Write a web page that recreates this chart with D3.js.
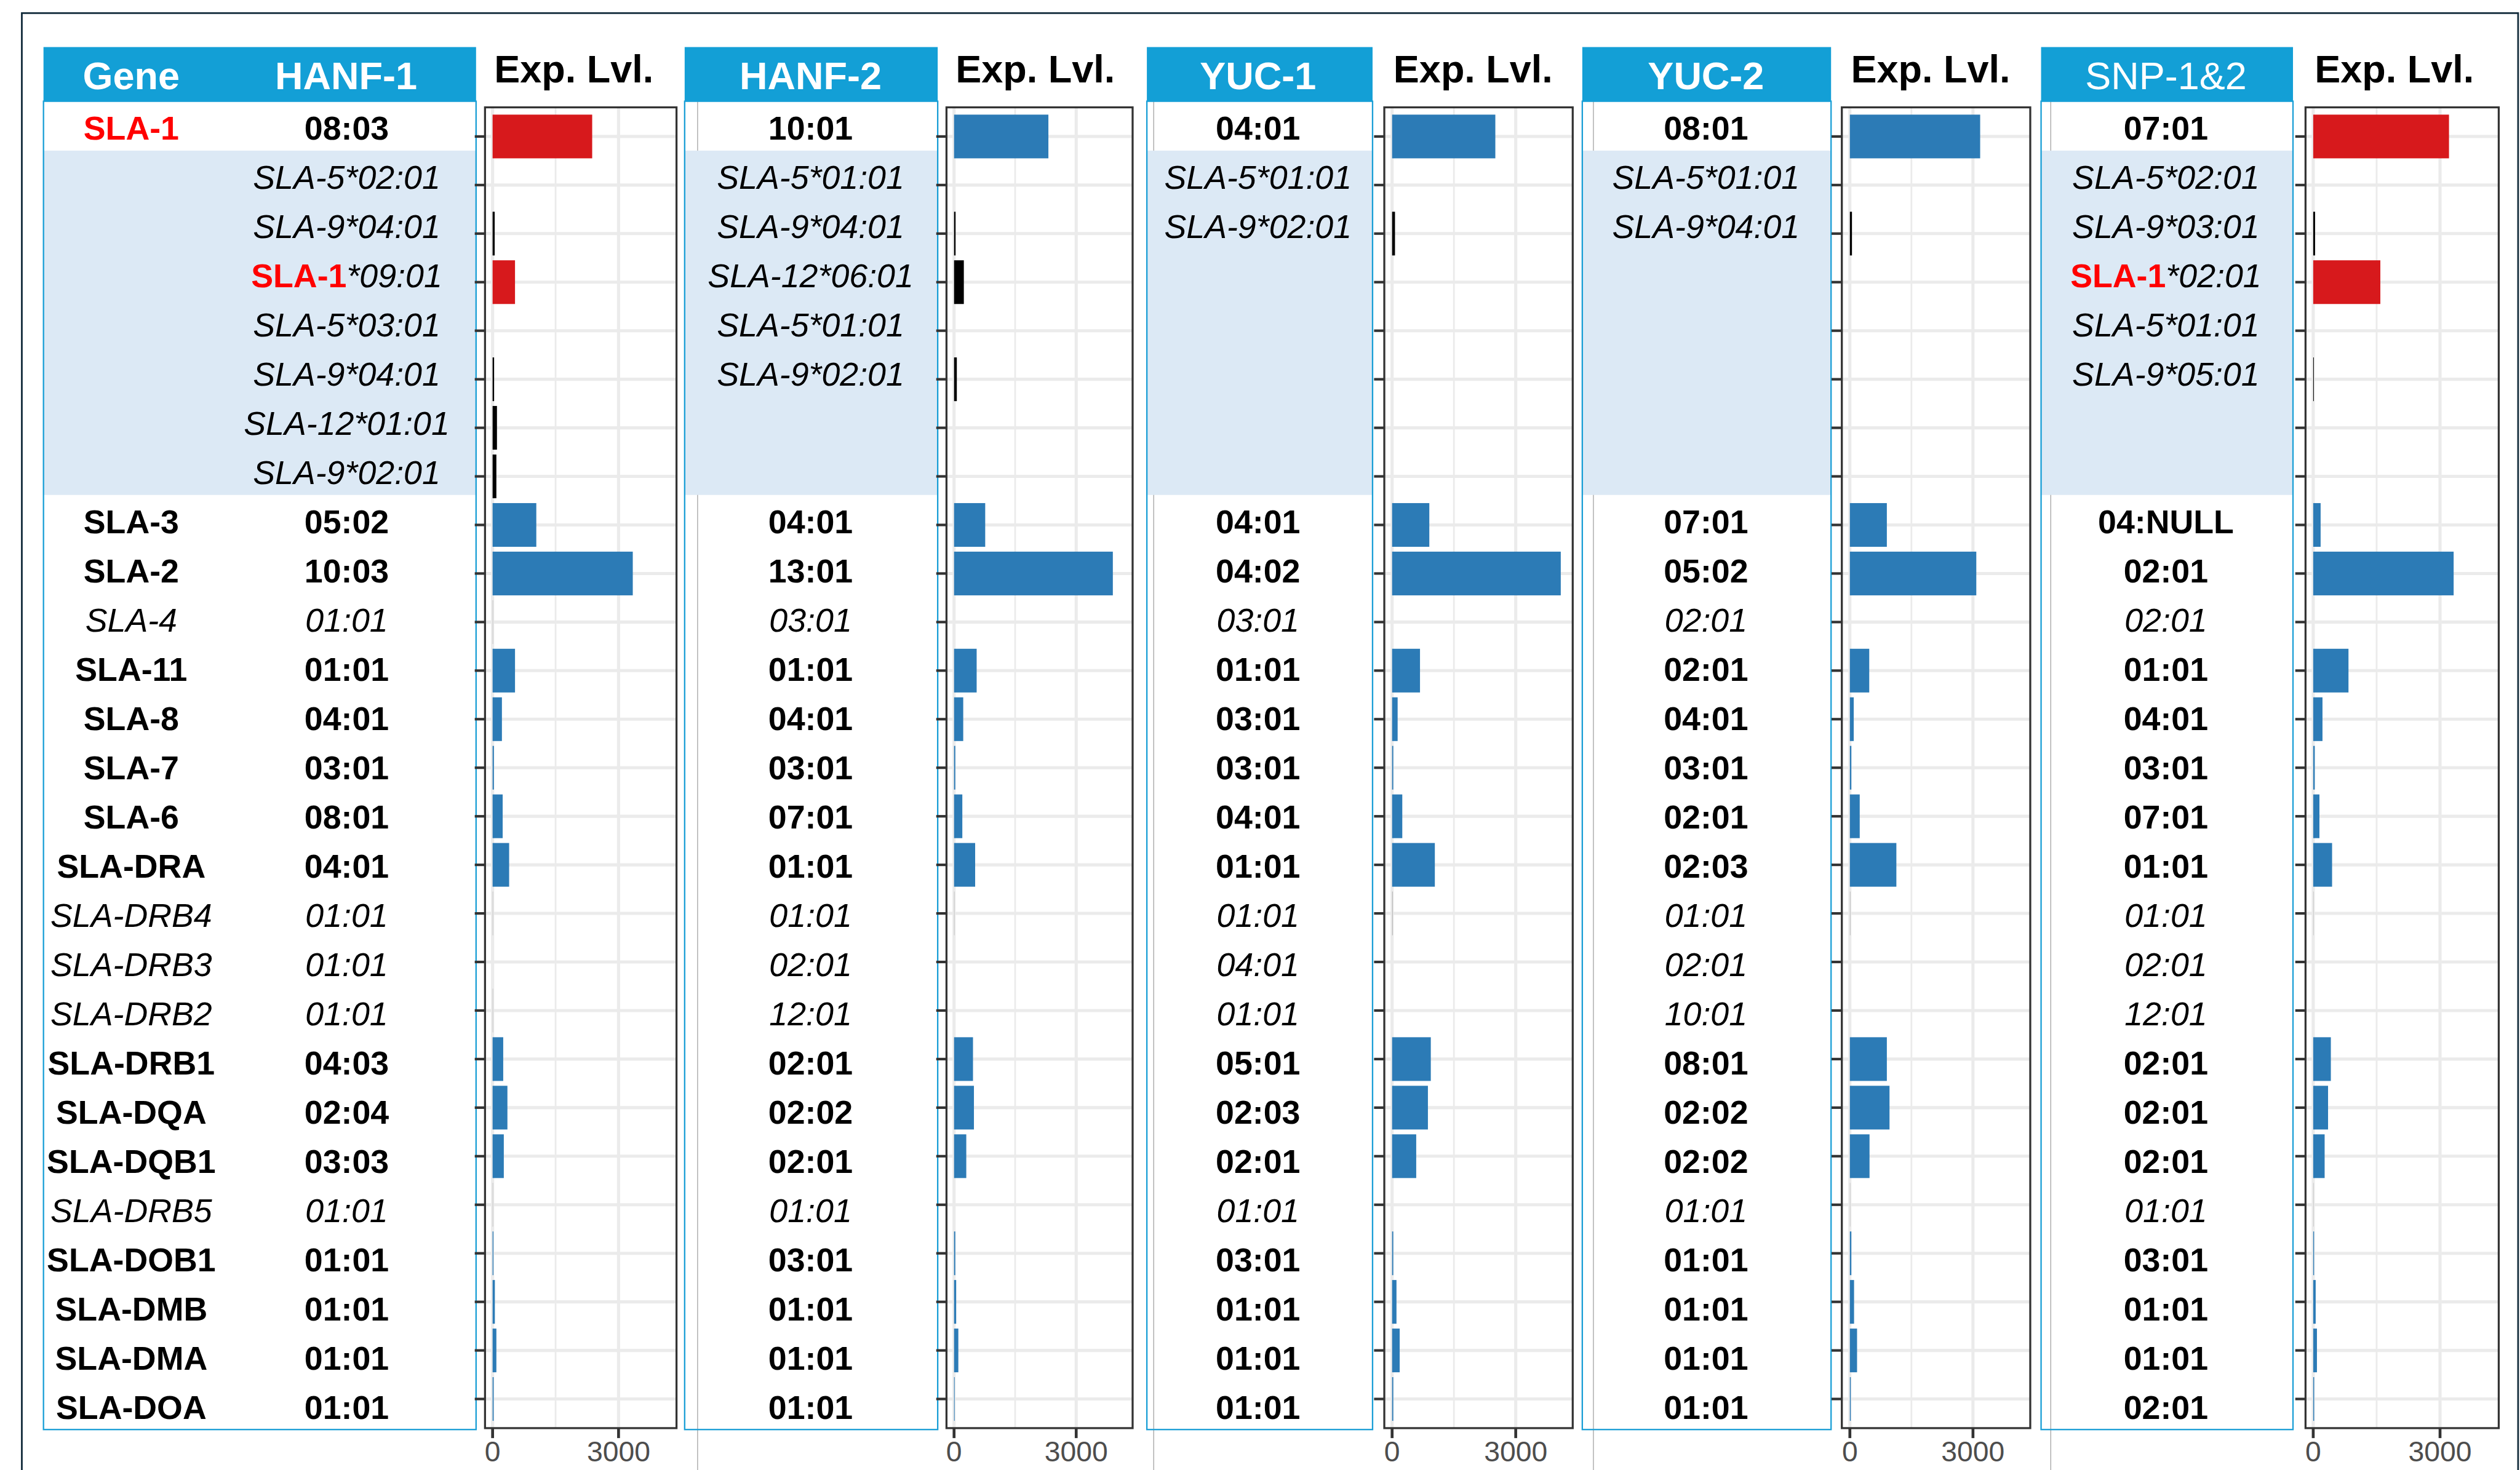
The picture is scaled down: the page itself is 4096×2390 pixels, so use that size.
<!DOCTYPE html>
<html>
<head>
<meta charset="utf-8">
<script src="https://cdn.jsdelivr.net/npm/d3@7"></script>
<style>
  html, body { margin: 0; padding: 0; background: #fff; }
  svg { display: block; }
</style>
</head>
<body>
<svg id="chart" width="4096" height="2390" viewBox="0 0 4421 2580"></svg>
<script>
// gene column of the first table ("" = extra copies in the SLA-1 region)
const genes = ["SLA-1", "", "", "", "", "", "", "",
  "SLA-3", "SLA-2", "SLA-4", "SLA-11", "SLA-8", "SLA-7", "SLA-6", "SLA-DRA",
  "SLA-DRB4", "SLA-DRB3", "SLA-DRB2", "SLA-DRB1", "SLA-DQA", "SLA-DQB1",
  "SLA-DRB5", "SLA-DOB1", "SLA-DMB", "SLA-DMA", "SLA-DOA"];

// rows written in italic (pseudo genes) and the shaded duplicate rows
const pseudoRows = [10, 16, 17, 18, 22];
const dupRows = [1, 2, 3, 4, 5, 6, 7];

const panelNames = ["HANF-1", "HANF-2", "YUC-1", "YUC-2", "SNP-1&2"];

const hanf1Alleles = ["08:03", "SLA-5*02:01", "SLA-9*04:01", "SLA-1*09:01", "SLA-5*03:01", "SLA-9*04:01", "SLA-12*01:01", "SLA-9*02:01",
  "05:02", "10:03", "01:01", "01:01", "04:01", "03:01", "08:01", "04:01", "01:01", "01:01", "01:01", "04:03", "02:04", "03:03", "01:01", "01:01", "01:01", "01:01", "01:01"];
const hanf2Alleles = ["10:01", "SLA-5*01:01", "SLA-9*04:01", "SLA-12*06:01", "SLA-5*01:01", "SLA-9*02:01", "", "",
  "04:01", "13:01", "03:01", "01:01", "04:01", "03:01", "07:01", "01:01", "01:01", "02:01", "12:01", "02:01", "02:02", "02:01", "01:01", "03:01", "01:01", "01:01", "01:01"];
const yuc1Alleles = ["04:01", "SLA-5*01:01", "SLA-9*02:01", "", "", "", "", "",
  "04:01", "04:02", "03:01", "01:01", "03:01", "03:01", "04:01", "01:01", "01:01", "04:01", "01:01", "05:01", "02:03", "02:01", "01:01", "03:01", "01:01", "01:01", "01:01"];
const yuc2Alleles = ["08:01", "SLA-5*01:01", "SLA-9*04:01", "", "", "", "", "",
  "07:01", "05:02", "02:01", "02:01", "04:01", "03:01", "02:01", "02:03", "01:01", "02:01", "10:01", "08:01", "02:02", "02:02", "01:01", "01:01", "01:01", "01:01", "01:01"];
const snpAlleles = ["07:01", "SLA-5*02:01", "SLA-9*03:01", "SLA-1*02:01", "SLA-5*01:01", "SLA-9*05:01", "", "",
  "04:NULL", "02:01", "02:01", "01:01", "04:01", "03:01", "07:01", "01:01", "01:01", "02:01", "12:01", "02:01", "02:01", "02:01", "01:01", "03:01", "01:01", "01:01", "02:01"];

// expression levels
const hanf1Exp = [2372, 0, 50, 534, 0, 36, 104, 90, 1041, 3339, 12, 534, 222, 31, 240, 394, 12, 0, 12, 253, 353, 267, 12, 20, 54, 90, 25];
const hanf2Exp = [2317, 0, 37, 240, 0, 68, 0, 0, 765, 3900, 0, 555, 225, 30, 203, 518, 12, 0, 0, 465, 488, 300, 0, 30, 52, 105, 15];
const yuc1Exp = [2505, 0, 70, 0, 0, 0, 0, 0, 903, 4093, 0, 677, 134, 28, 247, 1037, 20, 0, 0, 939, 869, 585, 0, 28, 106, 184, 28];
const yuc2Exp = [3175, 0, 51, 0, 0, 0, 0, 0, 901, 3081, 0, 472, 94, 36, 240, 1133, 15, 0, 0, 901, 966, 479, 10, 36, 102, 175, 22];
const snpExp = [3212, 0, 44, 1588, 0, 15, 0, 0, 175, 3322, 0, 834, 219, 36, 147, 446, 10, 0, 0, 417, 351, 270, 10, 20, 58, 88, 22];

// first SLA-1 copy drawn red in these panels
const sla1Red = [true, false, false, false, true];
const xTicks = [0, 3000];
const xGrid = [0, 1500, 3000];

const alleles = [hanf1Alleles, hanf2Alleles, yuc1Alleles, yuc2Alleles, snpAlleles];
const exps = [hanf1Exp, hanf2Exp, yuc1Exp, yuc2Exp, snpExp];

// layout of each panel in reference pixels (the svg viewBox does the 0.926 shrink)
const layout = [
  { t0: 76, t1: 835, edge: null, tx: 608, b0: 850.7, b1: 1186.7, z: 864, x3: 1085 },
  { t0: 1201, t1: 1645, edge: 1223.7, tx: 1422, b0: 1660.4, b1: 1987, z: 1673.7, x3: 1888 },
  { t0: 2012, t1: 2408, edge: 2024, tx: 2207, b0: 2428.6, b1: 2759.2, z: 2442.3, x3: 2659.2 },
  { t0: 2776, t1: 3212.5, edge: 2795.5, tx: 2993, b0: 3231.4, b1: 3562, z: 3245.5, x3: 3461.5 },
  { t0: 3581, t1: 4023, edge: 3598, tx: 3800, b0: 4045, b1: 4384, z: 4058.5, x3: 4281 }
];
const geneX = 230;

const font = "'Liberation Sans', Arial, sans-serif";
const blueHead = "#139fd6";
const tableLine = "#1b9fd6";
const shade = "#dce9f5";
const colBlue = "#2c7bb6", colRed = "#d7191c", colBlack = "#000000", colGray = "#bdbdbd";

const svg = d3.select("#chart");
const W = 4421, H = 2580;

// outer frame (bottom runs off the picture)
svg.append("rect")
  .attr("x", 38).attr("y", 23).attr("width", 4380).attr("height", 2620)
  .attr("fill", "#fff").attr("stroke", "#112a3a").attr("stroke-width", 3);

const rowIdx = d3.range(genes.length);

// table rows
const rowY = d3.scaleBand().domain(rowIdx).range([178, 2509]);
// plot rows (ggplot discrete scale: 0.6 step of padding at both ends)
const plotY = d3.scalePoint().domain(rowIdx).range([188.4, 2506.5]).padding(0.6);
const barH = plotY.step() * 0.9;

const headTop = 82.6, headBot = 177.7, tableBot = 2509;

function barColor(p, i) {
  const a = alleles[p][i];
  if (i === 0) return sla1Red[p] ? colRed : colBlue;
  if (dupRows.includes(i)) return a.startsWith("SLA-1*") ? colRed : colBlack;
  if (pseudoRows.includes(i)) return colGray;
  return colBlue;
}

function rowText(g, x, i, txt, redGene) {
  const y = rowY(i) + 67.5;
  const dup = dupRows.includes(i);
  const pseudo = pseudoRows.includes(i);
  const t = g.append("text")
    .attr("x", x).attr("y", y)
    .attr("text-anchor", "middle")
    .attr("font-family", font)
    .attr("font-size", 58)
    .attr("fill", "#000");
  if (redGene) {
    t.attr("font-weight", "bold").attr("fill", "#ff0000").text(txt);
  } else if (dup && txt.startsWith("SLA-1*")) {
    t.append("tspan").attr("font-weight", "bold").attr("fill", "#ff0000").text("SLA-1");
    t.append("tspan").attr("font-style", "italic").text(txt.slice(5));
  } else if (dup || pseudo) {
    t.attr("font-style", "italic").text(txt);
  } else {
    t.attr("font-weight", "bold").text(txt);
  }
}

layout.forEach((L, p) => {
  const g = svg.append("g");

  // ---- table ----
  g.append("rect")
    .attr("x", L.t0).attr("y", headBot).attr("width", L.t1 - L.t0).attr("height", tableBot - headBot)
    .attr("fill", "#fff");

  // thin grey edge of the pasted table
  if (L.edge) {
    g.append("line")
      .attr("x1", L.edge).attr("x2", L.edge).attr("y1", headBot).attr("y2", H)
      .attr("stroke", "#a8a8a8").attr("stroke-width", 1.5);
  }

  g.append("rect")
    .attr("x", L.t0).attr("y", rowY(dupRows[0]))
    .attr("width", L.t1 - L.t0)
    .attr("height", rowY(dupRows[dupRows.length - 1]) + rowY.bandwidth() - rowY(dupRows[0]))
    .attr("fill", shade);

  g.append("rect")
    .attr("x", L.t0).attr("y", headBot).attr("width", L.t1 - L.t0).attr("height", tableBot - headBot)
    .attr("fill", "none").attr("stroke", tableLine).attr("stroke-width", 2.5);

  g.append("rect")
    .attr("x", L.t0).attr("y", headTop).attr("width", L.t1 - L.t0).attr("height", headBot - headTop)
    .attr("fill", blueHead);

  if (p === 0) {
    g.append("text").attr("x", geneX).attr("y", 156)
      .attr("text-anchor", "middle").attr("font-family", font)
      .attr("font-size", 68).attr("font-weight", "bold").attr("fill", "#fff")
      .text("Gene");
  }
  g.append("text").attr("x", p === 0 ? 607 : L.tx).attr("y", 156)
    .attr("text-anchor", "middle").attr("font-family", font)
    .attr("font-size", 68).attr("font-weight", p === 4 ? "normal" : "bold").attr("fill", "#fff")
    .text(panelNames[p]);

  rowIdx.forEach(i => {
    if (p === 0 && genes[i]) rowText(g, geneX, i, genes[i], i === 0);
    if (alleles[p][i]) rowText(g, L.tx, i, alleles[p][i], false);
  });

  // ---- bar plot ----
  const x = d3.scaleLinear().domain([0, 3000]).range([L.z, L.x3]);
  const pg = svg.append("g");

  pg.append("rect")
    .attr("x", L.b0).attr("y", 188.4).attr("width", L.b1 - L.b0).attr("height", 2506.5 - 188.4)
    .attr("fill", "#fff");

  pg.selectAll("line.hg").data(rowIdx).enter().append("line")
    .attr("x1", L.b0).attr("x2", L.b1)
    .attr("y1", d => plotY(d)).attr("y2", d => plotY(d))
    .attr("stroke", "#ebebeb").attr("stroke-width", 5.5);

  pg.selectAll("line.vg").data(xGrid).enter().append("line")
    .attr("x1", d => x(d)).attr("x2", d => x(d))
    .attr("y1", 188.4).attr("y2", 2506.5)
    .attr("stroke", "#ebebeb")
    .attr("stroke-width", d => xTicks.includes(d) ? 5.5 : 3);

  pg.selectAll("rect.bar").data(exps[p].map((v, i) => ({ v, i })).filter(d => d.v > 0)).enter()
    .append("rect")
    .attr("x", x(0))
    .attr("y", d => plotY(d.i) - barH / 2)
    .attr("width", d => x(d.v) - x(0))
    .attr("height", barH)
    .attr("fill", d => barColor(p, d.i));

  pg.append("rect")
    .attr("x", L.b0).attr("y", 188.4).attr("width", L.b1 - L.b0).attr("height", 2506.5 - 188.4)
    .attr("fill", "none").attr("stroke", "#333").attr("stroke-width", 3.5);

  // y ticks (no labels)
  pg.selectAll("line.yt").data(rowIdx).enter().append("line")
    .attr("x1", L.b0 - 18).attr("x2", L.b0)
    .attr("y1", d => plotY(d)).attr("y2", d => plotY(d))
    .attr("stroke", "#333").attr("stroke-width", 4.5);

  // x ticks and labels
  pg.selectAll("line.xt").data(xTicks).enter().append("line")
    .attr("x1", d => x(d)).attr("x2", d => x(d))
    .attr("y1", 2506.5).attr("y2", 2524)
    .attr("stroke", "#333").attr("stroke-width", 5);

  pg.selectAll("text.xl").data(xTicks).enter().append("text")
    .attr("x", d => x(d)).attr("y", 2565)
    .attr("text-anchor", "middle").attr("font-family", font)
    .attr("font-size", 50).attr("fill", "#4d4d4d")
    .text(d => d);

  pg.append("text")
    .attr("x", L.b0 + 16).attr("y", 145)
    .attr("font-family", font).attr("font-size", 68).attr("font-weight", "bold")
    .attr("fill", "#000")
    .text("Exp. Lvl.");
});
</script>
</body>
</html>
